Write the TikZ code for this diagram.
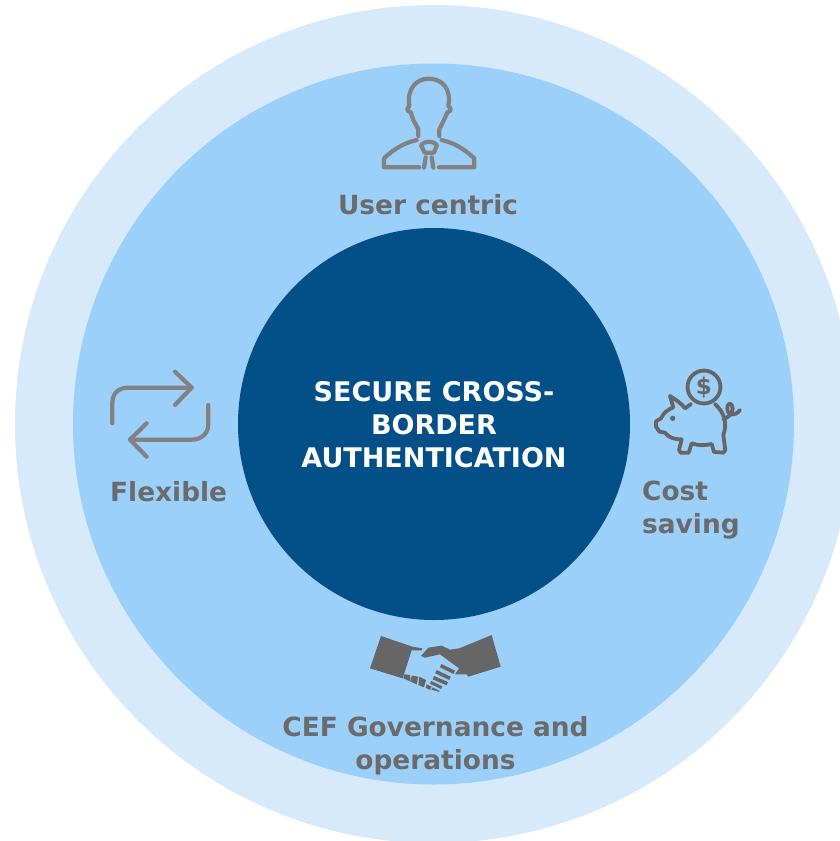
\documentclass[tikz,border=0pt]{standalone}
\usepackage{fontspec}
\setmainfont{DejaVu Sans}
\definecolor{ringout}{HTML}{D6EAFC}
\definecolor{ringin}{HTML}{9BD0FB}
\definecolor{core}{HTML}{034F88}
\definecolor{label}{HTML}{6B6B6B}
\definecolor{iconA}{HTML}{828282}
\definecolor{iconB}{HTML}{666666}
\tikzset{
  lab/.style={text=label,font=\fontsize{26.4}{33}\selectfont\bfseries,align=left,inner sep=0pt,anchor=west},
  labc/.style={lab,align=center,anchor=center},
  corelab/.style={text=white,font=\fontsize{27}{33}\selectfont\bfseries,align=center,inner sep=0pt},
  iconline/.style={draw=iconA,line width=4.2pt,line cap=round,line join=round},
  pigline/.style={draw=iconB,line width=3.8pt,line cap=round,line join=round},
}
\begin{document}
\begin{tikzpicture}[x=1pt,y=-1pt]
\useasboundingbox (0,0) rectangle (840,841);
\begin{scope}
\clip (0,0) rectangle (840,841);
\fill[white] (0,0) rectangle (840,841);
\fill[ringout] (434,424) circle[radius=419];
\fill[ringin] (433.5,424) circle[radius=360.5];
\fill[core] (434,424) circle[radius=196];
\end{scope}
\node[corelab] (core) at (434,425) {SECURE CROSS-\\BORDER\\AUTHENTICATION};
\node[labc] (user) at (428,205) {User centric};
\node[lab] (flex) at (110,492) {Flexible};
\node[lab] (cost) at (642,510.5) {Cost\\saving};
\node[labc] (cef) at (435.5,746) {CEF Governance and\\operations};
% person
\begin{scope}[shift={(360,60)},x=0.3333pt,y=-0.3333pt]
\draw[iconline] (175,228) -- (175,208) -- (160,180) -- (152,157) -- (143,152) -- (142,146) -- (148,138) .. controls (140,85) and (170,56) .. (206,56) .. controls (245,56) and (275,85) .. (265,138) -- (272,146) -- (271,152) -- (262,157) -- (252,180) -- (238,208) -- (238,228);
\draw[iconline] (170,240) .. controls (130,250) and (105,265) .. (72,295) -- (72,322) -- (178,322);
\draw[iconline] (245,240) .. controls (285,250) and (310,265) .. (343,295) -- (343,322) -- (237,322);
\draw[iconline] (183,255) .. controls (195,242) and (220,242) .. (231,255) -- (222,278) -- (194,278) -- cycle;
\draw[iconline] (197,292) -- (192,323);
\draw[iconline] (215,292) -- (220,323);
\end{scope}
% arrows
\begin{scope}[shift={(90,350)},x=0.3333pt,y=-0.3333pt]
\draw[iconline] (67,220) -- (67,160) .. controls (67,130) and (85,113) .. (115,113) -- (305,113);
\draw[iconline] (255,65) -- (305,113) -- (255,165);
\draw[iconline] (355,165) -- (355,222) .. controls (355,250) and (335,269) .. (305,269) -- (120,269);
\draw[iconline] (170,220) -- (120,269) -- (170,320);
\end{scope}
% piggy bank
\begin{scope}[shift={(640,360)},x=0.3333pt,y=-0.3333pt]
\draw[pigline] (192,81) circle[radius=148/3];
\node[text=iconB,font=\fontsize{23}{23}\selectfont\bfseries,inner sep=0pt] (dollar) at (192,81) {\$};
\draw[pigline] (153,132) -- (135,145) .. controls (125,130) and (105,118) .. (90,108) -- (100,142) .. controls (85,148) and (70,158) .. (63,175) -- (48,184) -- (48,200) -- (58,215) -- (75,218) .. controls (85,232) and (100,238) .. (125,238) -- (117,270) -- (122,278) -- (146,278) -- (155,250) .. controls (175,257) and (195,257) .. (215,252) -- (222,276) -- (250,278) -- (256,270) -- (250,225) .. controls (262,190) and (255,160) .. (225,132);
\draw[pigline] (250,178) .. controls (262,172) and (278,165) .. (278,145) .. controls (278,128) and (262,125) .. (262,145) .. controls (262,168) and (285,170) .. (300,150);
\fill[iconB] (98,175) circle[radius=8];
\end{scope}
% handshake
\begin{scope}[shift={(360,625)},x=0.3333pt,y=-0.3333pt]
\fill[iconB] (63,33) -- (157,65) -- (187,70) -- (186,76) -- (155,76) -- (128,160) -- (30,130) -- cycle;
\fill[iconB] (395,30) -- (422,125) -- (325,155) -- (320,148) -- (285,148) -- (297,130) -- (240,88) -- (195,98) -- (183,93) -- (205,68) -- (245,62) -- (270,74) -- (298,70) -- cycle;
\fill[iconB] (132,148) -- (150,150) -- (152,170) -- (130,160) -- cycle;
\fill[iconB] (155,152) -- (175,155) -- (170,178) -- (152,170) -- cycle;
\fill[iconB] (178,155) -- (198,165) -- (192,187) -- (175,180) -- cycle;
\fill[iconB] (200,178) -- (215,185) -- (210,195) -- (197,188) -- cycle;
\fill[iconB] (218,187) -- (240,198) -- (236,200) -- (214,194) -- cycle;
\draw[iconB,line width=3.6pt] (242,122) -- (283,142);
\draw[iconB,line width=3.6pt] (228,140) -- (270,160);
\draw[iconB,line width=3.6pt] (220,158) -- (262,176);
\draw[iconB,line width=3pt] (212,172) -- (245,188);
\end{scope}
\end{tikzpicture}
\end{document}
